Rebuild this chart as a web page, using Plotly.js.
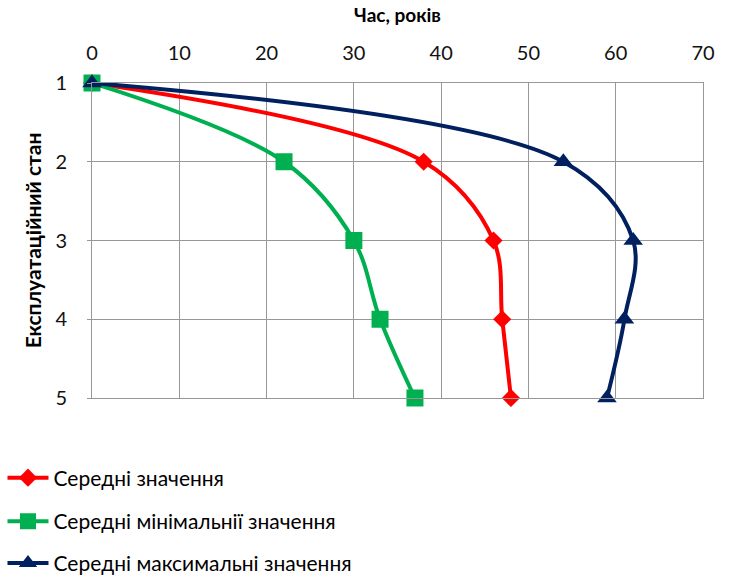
<!DOCTYPE html>
<html>
<head>
<meta charset="utf-8">
<script src="https://cdn.plot.ly/plotly-3.0.1.min.js"></script>
<style>
  html, body { margin: 0; padding: 0; background: #fff; }
  #chart { width: 729px; height: 577px; }
</style>
</head>
<body>
<div id="chart"></div>
<script>
// Operational state (1..5) against time in years
const states = [1, 2, 3, 4, 5];
const meanYears = [0, 38, 46, 47, 48];
const minYears = [0, 22, 30, 33, 37];
const maxYears = [0, 54, 62, 61, 59];
const seriesNames = [
  'Середні значення',
  'Середні мінімальнії значення',
  'Середні максимальні значення'
];
const xTicks = [0, 10, 20, 30, 40, 50, 60, 70];

const FONT = 'Lato, "Open Sans", sans-serif';

function series(xs, name, color, symbol, size, legendId) {
  return {
    x: xs, y: states, name: name, type: 'scatter', mode: 'lines+markers',
    line: { color: color, width: 4, shape: 'spline', smoothing: 1 },
    marker: { color: color, symbol: symbol, size: size },
    legend: legendId, cliponaxis: false
  };
}

const traces = [
  series(meanYears, seriesNames[0], '#FF0000', 'diamond', 14, 'legend'),
  series(minYears, seriesNames[1], '#00B050', 'square', 17, 'legend2'),
  series(maxYears, seriesNames[2], '#002060', 'triangle-up', 17, 'legend3')
];

function legendAt(yPaper) {
  return {
    x: -0.1465, xanchor: 'left', y: yPaper, yanchor: 'middle',
    font: { family: FONT, size: 21, color: '#000' },
    bgcolor: 'rgba(0,0,0,0)', itemwidth: 41
  };
}

const layout = {
  width: 729, height: 577,
  margin: { l: 92, r: 26, t: 83, b: 179, autoexpand: false },
  paper_bgcolor: '#fff', plot_bgcolor: '#fff',
  font: { family: FONT, size: 17, color: '#000' },
  showlegend: true,
  xaxis: {
    side: 'top', range: [0, 70], tickvals: xTicks, ticktext: xTicks.map(String),
    showgrid: true, gridcolor: '#989898', gridwidth: 1,
    zeroline: false, showline: true, linecolor: '#989898', linewidth: 1, mirror: true,
    ticks: '', ticklabelstandoff: 14, automargin: false,
    tickfont: { family: FONT, size: 20, color: '#111' },
    title: { text: '<b>Час, років</b>', font: { family: FONT, size: 19, color: '#000' }, standoff: 12 }
  },
  yaxis: {
    range: [5, 1], tickvals: states, ticktext: states.map(String),
    showgrid: true, gridcolor: '#989898', gridwidth: 1,
    zeroline: false, showline: true, linecolor: '#989898', linewidth: 1, mirror: true,
    ticks: 'outside', ticklen: 4, tickcolor: '#989898', ticklabelstandoff: 16, automargin: false,
    tickfont: { family: FONT, size: 20, color: '#111' },
    title: { text: '<b>Експлуатаційний стан</b>', font: { family: FONT, size: 21, color: '#000' }, standoff: 8 }
  },
  legend: legendAt(-0.254),
  legend2: legendAt(-0.392),
  legend3: legendAt(-0.525)
};

Plotly.newPlot('chart', traces, layout, { displayModeBar: false, staticPlot: true });
</script>
</body>
</html>
